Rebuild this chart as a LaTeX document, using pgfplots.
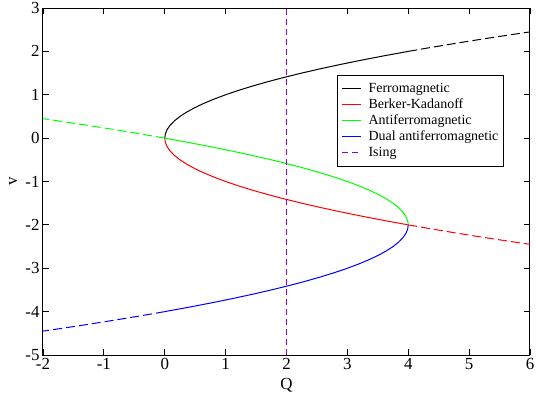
\documentclass[border=0pt]{standalone}
\usepackage{pgfplots}
\pgfplotsset{compat=1.18}
\usepackage{fontspec}
\setmainfont{Liberation Serif}
\definecolor{isingviolet}{RGB}{148,0,211}
\definecolor{grgreen}{RGB}{0,255,0}
\begin{document}
\begin{tikzpicture}[x=1bp,y=1bp]
\begin{axis}[
  at={(0bp,0bp)}, anchor=south west,
  scale only axis,
  width=487bp, height=347bp,
  xmin=-2, xmax=6, ymin=-5, ymax=3,
  xtick={-2,-1,...,6}, ytick={-5,-4,...,3},
  tick align=inside,
  major tick length=6bp,
  minor tick num=0,
  axis line style={line width=1bp},
  every tick/.style={black, line width=0.8bp},
  /pgf/number format/assume math mode=true,
  tick label style={font=\fontsize{17}{17}\selectfont},
  xlabel={Q}, ylabel={v},
  every axis x label/.style={at={(axis description cs:0.5,-0.098)}, anchor=base, font=\fontsize{17}{17}\selectfont},
  every axis y label/.style={at={(axis description cs:-0.0534,0.5)}, anchor=base, rotate=90, font=\fontsize{17}{17}\selectfont},
  legend style={at={(0.6037,0.807)}, anchor=north west, draw, line width=0.8bp,
    font=\fontsize{14}{15}\selectfont, inner xsep=4bp, inner ysep=5.5bp,
    row sep=0bp, column sep=6bp,
    nodes={inner sep=1bp, text height=10.5bp, text depth=3.5bp}},
  legend cell align=left,
  legend image code/.code={\draw[#1, line width=1.2bp] (0bp,0bp) -- (19bp,0bp);},
  clip=true,
]
% Ferromagnetic v = sqrt(Q)
\addplot[black, line width=1bp] coordinates {
(0,0) (0.01,0.1) (0.04,0.2) (0.09,0.3) (0.16,0.4) (0.25,0.5) (0.36,0.6) (0.49,0.7) (0.64,0.8) (0.81,0.9) (1,1) (1.21,1.1) (1.44,1.2) (1.69,1.3) (1.96,1.4) (2.25,1.5) (2.56,1.6) (2.89,1.7) (3.24,1.8) (3.61,1.9) (4,2)};
\addlegendentry{Ferromagnetic}
% Berker-Kadanoff v = -sqrt(Q)
\addplot[red, line width=1bp] coordinates {
(0,0) (0.01,-0.1) (0.04,-0.2) (0.09,-0.3) (0.16,-0.4) (0.25,-0.5) (0.36,-0.6) (0.49,-0.7) (0.64,-0.8) (0.81,-0.9) (1,-1) (1.21,-1.1) (1.44,-1.2) (1.69,-1.3) (1.96,-1.4) (2.25,-1.5) (2.56,-1.6) (2.89,-1.7) (3.24,-1.8) (3.61,-1.9) (4,-2)};
\addlegendentry{Berker-Kadanoff}
% Antiferromagnetic
\addplot[grgreen, line width=1bp] coordinates {
(0,0) (0.39,-0.1) (0.76,-0.2) (1.11,-0.3) (1.44,-0.4) (1.75,-0.5) (2.04,-0.6) (2.31,-0.7) (2.56,-0.8) (2.79,-0.9) (3,-1) (3.19,-1.1) (3.36,-1.2) (3.51,-1.3) (3.64,-1.4) (3.75,-1.5) (3.84,-1.6) (3.91,-1.7) (3.96,-1.8) (3.99,-1.9) (4,-2)};
\addlegendentry{Antiferromagnetic}
% Dual antiferromagnetic
\addplot[blue, line width=1bp] coordinates {
(0,-4) (0.39,-3.9) (0.76,-3.8) (1.11,-3.7) (1.44,-3.6) (1.75,-3.5) (2.04,-3.4) (2.31,-3.3) (2.56,-3.2) (2.79,-3.1) (3,-3) (3.19,-2.9) (3.36,-2.8) (3.51,-2.7) (3.64,-2.6) (3.75,-2.5) (3.84,-2.4) (3.91,-2.3) (3.96,-2.2) (3.99,-2.1) (4,-2)};
\addlegendentry{Dual antiferromagnetic}
% Ising
\addplot[isingviolet, line width=1bp, dash pattern=on 6bp off 4bp] coordinates {(2,-5) (2,3)};
\addlegendentry{Ising}
% dashed continuations
\addplot[black, line width=1bp, dash pattern=on 9bp off 4bp, forget plot] coordinates {
(4,2) (4.41,2.1) (4.84,2.2) (5.29,2.3) (5.76,2.4) (6,2.449)};
\addplot[red, line width=1bp, dash pattern=on 9bp off 4bp, forget plot] coordinates {
(4,-2) (4.41,-2.1) (4.84,-2.2) (5.29,-2.3) (5.76,-2.4) (6,-2.449)};
\addplot[grgreen, line width=1bp, dash pattern=on 9bp off 4bp, forget plot] coordinates {
(0,0) (-0.41,0.1) (-0.84,0.2) (-1.29,0.3) (-1.76,0.4) (-2,0.449)};
\addplot[blue, line width=1bp, dash pattern=on 9bp off 4bp, forget plot] coordinates {
(0,-4) (-0.41,-4.1) (-0.84,-4.2) (-1.29,-4.3) (-1.76,-4.4) (-2,-4.449)};
\end{axis}
\pgfresetboundingbox
\path (-43bp,-39bp) rectangle (493bp,355bp);
\end{tikzpicture}
\end{document}
